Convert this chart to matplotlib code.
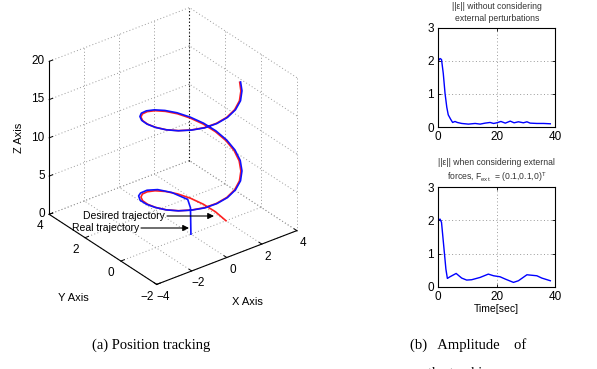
import numpy as np
import matplotlib
matplotlib.use('Agg')
import matplotlib.pyplot as plt

plt.rcParams['font.family'] = ['Liberation Sans', 'DejaVu Sans']

des_x = [2, 1.93, 1.73, 1.41, 1, 0.52, 0, -0.52, -1, -1.41, -1.73, -1.93,
         -2, -1.93, -1.73, -1.41, -1, -0.52, 0, 0.52, 1, 1.41, 1.73, 1.93,
         2, 1.93, 1.73, 1.41, 1, 0.52, 0, -0.52, -1, -1.41, -1.73, -1.93,
         -2, -1.93, -1.73, -1.41, -1, -0.52, 0, 0.52, 1, 1.41, 1.69]
des_y = [0, 0.52, 1, 1.41, 1.73, 1.93, 2, 1.93, 1.73, 1.41, 1, 0.52,
         0, -0.52, -1, -1.41, -1.73, -1.93, -2, -1.93, -1.73, -1.41, -1, -0.52,
         0, 0.52, 1, 1.41, 1.73, 1.93, 2, 1.93, 1.73, 1.41, 1, 0.52,
         0, -0.52, -1, -1.41, -1.73, -1.93, -2, -1.93, -1.73, -1.41, -1.07]
des_z = [0, 0.44, 0.87, 1.31, 1.75, 2.18, 2.62, 3.05, 3.49, 3.93, 4.36, 4.8,
         5.24, 5.67, 6.11, 6.55, 6.98, 7.42, 7.85, 8.29, 8.73, 9.16, 9.6, 10.04,
         10.47, 10.91, 11.34, 11.78, 12.22, 12.65, 13.09, 13.53, 13.96, 14.4, 14.83, 15.27,
         15.71, 16.14, 16.58, 17.02, 17.45, 17.89, 18.33, 18.76, 19.2, 19.63, 20.0]

# real trajectory (blue)
real_x = [0, 0.1, 0.6, 1.1, 1.25, 0.85, 0.25, -0.4, -0.95, -1.35, -1.75, -1.97,
          -2.04, -1.97, -1.77, -1.44, -1.02, -0.53, 0, 0.53, 1.02, 1.44, 1.77, 1.97,
          2.04, 1.97, 1.77, 1.44, 1.02, 0.53, 0, -0.53, -1.02, -1.44, -1.77, -1.97,
          -2.04, -1.97, -1.77, -1.44, -1.02, -0.53, 0, 0.53, 1.02, 1.44, 1.72]
real_y = [0, 0.1, 0.6, 1.1, 1.4, 1.9, 2.1, 2.06, 1.88, 1.6, 1.12, 0.55,
          0, -0.53, -1.02, -1.44, -1.77, -1.97, -2.04, -1.97, -1.77, -1.44, -1.02, -0.53,
          0, 0.53, 1.02, 1.44, 1.77, 1.97, 2.04, 1.97, 1.77, 1.44, 1.02, 0.53,
          0, -0.53, -1.02, -1.44, -1.77, -1.97, -2.04, -1.97, -1.77, -1.44, -1.09]
real_z = [0, 0.05, 0.35, 0.8, 1.3, 1.8, 2.4, 2.95, 3.35, 3.75, 4.25, 4.8,
          5.29, 5.72, 6.16, 6.6, 7.03, 7.47, 7.9, 8.34, 8.78, 9.21, 9.65, 10.09,
          10.52, 10.96, 11.39, 11.83, 12.27, 12.7, 13.14, 13.58, 14.01, 14.45, 14.88, 15.32,
          15.76, 16.19, 16.63, 17.07, 17.5, 17.94, 18.38, 18.81, 19.25, 19.68, 20.05]

x_ticks = [-4, -2, 0, 2, 4]
y_ticks = [-2, 0, 2, 4]
z_ticks = [0, 5, 10, 15, 20]

# error norm, no perturbation
t1 = [0, 0.6, 1.1, 1.7, 2.3, 2.9, 3.4, 4.2, 4.9, 5.7, 6.5, 8, 10.3, 12.6, 14.3, 16,
      17.7, 18.9, 20, 21.4, 22.9, 24.6, 25.9, 27.4, 29.1, 30.3, 31.4, 33.7, 36, 38.3]
e1 = [2.0, 2.07, 2.04, 1.62, 1.02, 0.6, 0.37, 0.24, 0.14, 0.17, 0.14, 0.11, 0.09, 0.11, 0.09, 0.12,
      0.14, 0.11, 0.13, 0.17, 0.12, 0.18, 0.13, 0.16, 0.13, 0.16, 0.12, 0.11, 0.11, 0.1]
# error norm with external force
t2 = [0, 0.6, 1.1, 1.9, 2.6, 3.1, 4.0, 6.1, 8, 9.7, 11.4, 14.3, 17.1, 18.9, 21.1,
      22.9, 25.7, 27.4, 30.3, 33.7, 35.4, 38.3]
e2 = [2.01, 2.04, 1.94, 1.19, 0.53, 0.25, 0.3, 0.4, 0.26, 0.2, 0.21, 0.28, 0.38, 0.33, 0.3,
      0.23, 0.13, 0.18, 0.36, 0.33, 0.26, 0.18]

W, H = 597, 369
fig = plt.figure(figsize=(W / 100, H / 100), dpi=100)

# ---- 3-D position tracking
ax = fig.add_axes([13.3 / W, 1 - 305.7 / H, 311 / W, 311 / H], projection='3d')
ax.set_proj_type('ortho')
ax.set_box_aspect((1, 1, 1), zoom=0.955)
ax.view_init(elev=30, azim=-127.5)
ax.set_xlim(-4, 4)
ax.set_ylim(-2, 4)
ax.set_zlim(0, 20)
ax.set_axis_off()

gkw = dict(color='0.6', lw=0.7, ls=(0, (1, 2.4)))
for xv in x_ticks:
    ax.plot([xv, xv], [-2, 4], [0, 0], **gkw)
    ax.plot([xv, xv], [4, 4], [0, 20], **gkw)
for yv in y_ticks:
    ax.plot([-4, 4], [yv, yv], [0, 0], **gkw)
    ax.plot([4, 4], [yv, yv], [0, 20], **gkw)
for zv in z_ticks:
    ax.plot([-4, 4], [4, 4], [zv, zv], **gkw)
    ax.plot([4, 4], [-2, 4], [zv, zv], **gkw)
ax.plot([4, 4], [4, 4], [0, 20], color='k', lw=0.8, ls=(0, (1, 2.2)))

# axis lines and ticks
ax.plot([-4, 4], [-2, -2], [0, 0], color='k', lw=0.8)
ax.plot([-4, -4], [-2, 4], [0, 0], color='k', lw=0.8)
ax.plot([-4, -4], [4, 4], [0, 20], color='k', lw=0.8)
for xv in x_ticks:
    ax.plot([xv, xv], [-2, -1.85], [0, 0], color='k', lw=0.7)
    ax.text(xv - 0.1, -2.45, -0.85, '\u2212%d' % -xv if xv < 0 else '%d' % xv,
            ha='center', va='center', fontsize=8.5)
for yv in y_ticks:
    ax.plot([-4, -3.8], [yv, yv], [0, 0], color='k', lw=0.7)
    ax.text(-4.55, yv, -1.1, '\u2212%d' % -yv if yv < 0 else '%d' % yv,
            ha='center', va='center', fontsize=8.5)
for zv in z_ticks:
    ax.plot([-4, -3.8], [4, 4], [zv, zv], color='k', lw=0.7)
    ax.text(-4.15, 4.1, zv, '%d' % zv, ha='right', va='center', fontsize=8.5)

ax.plot(des_x, des_y, des_z, color='#ff2020', lw=1.2)
ax.plot(real_x, real_y, real_z, color='#1010ff', lw=1.2)

fig.text(19 / W, 1 - 138 / H, 'Z Axis', rotation=90, ha='center', va='center', fontsize=8)
fig.text(73 / W, 1 - 298 / H, 'Y Axis', ha='center', va='center', fontsize=8)
fig.text(247 / W, 1 - 302 / H, 'X Axis', ha='center', va='center', fontsize=8)

akw = dict(arrowstyle='-|>', color='k', lw=0.8, mutation_scale=9, shrinkA=0, shrinkB=0)
fig.text(123.5 / W, 1 - 216 / H, 'Desired trajectory', ha='center', va='center', fontsize=7.5)
fig.text(106 / W, 1 - 228 / H, 'Real trajectory', ha='center', va='center', fontsize=7.5)
fig.add_artist(matplotlib.patches.FancyArrowPatch((167 / W, 1 - 216 / H), (214 / W, 1 - 216 / H),
                                                  transform=fig.transFigure, **akw))
fig.add_artist(matplotlib.patches.FancyArrowPatch((141 / W, 1 - 228 / H), (189 / W, 1 - 228 / H),
                                                  transform=fig.transFigure, **akw))

# ---- error plots
def err_axes(top, t, e, title):
    a = fig.add_axes([438.3 / W, 1 - (top + 99.4) / H, 117 / W, 99.4 / H])
    a.plot(t, e, color='#0000ff', lw=1.0)
    a.set_xlim(0, 40)
    a.set_ylim(0, 3)
    a.set_xticks([0, 20, 40])
    a.set_yticks([0, 1, 2, 3])
    a.grid(True, color='0.6', lw=0.7, ls=(0, (1, 2.5)))
    a.tick_params(direction='in', length=2, width=0.6, labelsize=8.5, pad=3,
                  top=True, right=True)
    for s in a.spines.values():
        s.set_linewidth(0.8)
    a.set_title(title, fontsize=6.2, color='0.2', pad=5, linespacing=1.35)
    return a

err_axes(27.7, t1, e1, '||\u03b5|| without considering\nexternal perturbations')
a2 = err_axes(187.3, t2, e2,
              '||\u03b5|| when considering external\nforces, F$_{\\mathregular{ext.}}$ = (0.1,0.1,0)$^{\\mathregular{T}}$')
a2.set_xlabel('Time[sec]', fontsize=7.5, labelpad=1)

# ---- captions
fig.text(151 / W, 1 - 345 / H, '(a) Position tracking', ha='center', va='center',
         fontsize=10.5, family='Liberation Serif')
fig.text(410 / W, 1 - 345 / H, '(b)   Amplitude    of', ha='left', va='center',
         fontsize=10.5, family='Liberation Serif')
fig.text(428 / W, 1 - 373 / H, 'the tracking', ha='left', va='center',
         fontsize=10.5, family='Liberation Serif')

fig.savefig('out.png', dpi=100)
